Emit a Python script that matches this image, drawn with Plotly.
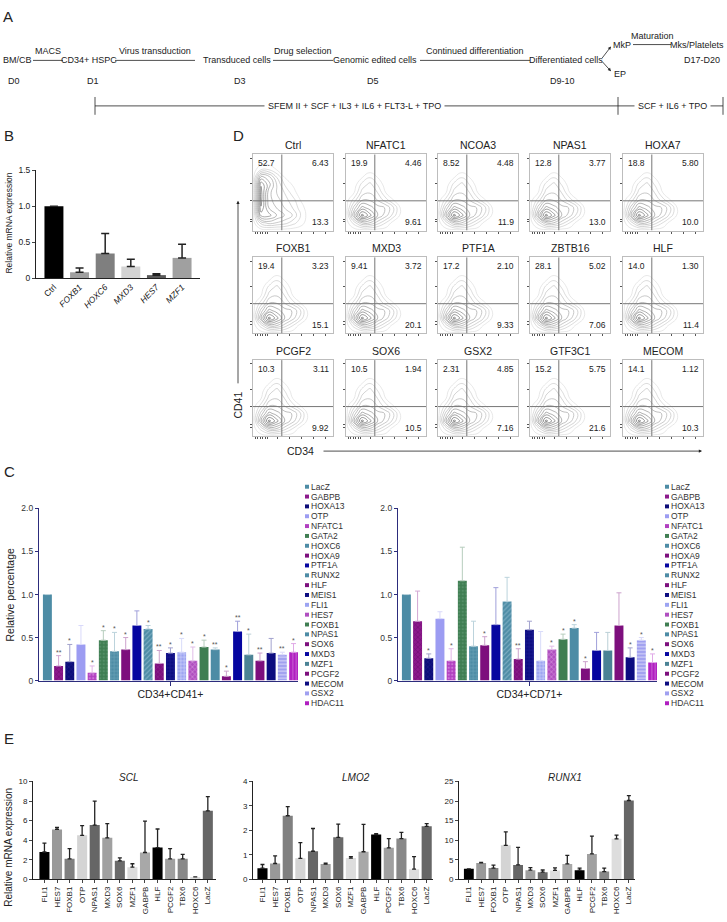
import plotly.graph_objects as go

W, H = 727, 922
FONT = "Liberation Sans, Arial, sans-serif"
INK = "#222222"

# ---------------- panel B: knock-down check (qPCR)
B_GENES = ["Ctrl", "FOXB1", "HOXC6", "MXD3", "HES7", "MZF1"]
B_MEAN = [1.0, 0.08, 0.34, 0.16, 0.04, 0.28]
B_ERR = [0.0, 0.06, 0.28, 0.10, 0.02, 0.19]

# ---------------- panel D: flow quadrants (upper-left, upper-right, lower-right)
D_GENES = ["Ctrl", "NFATC1", "NCOA3", "NPAS1", "HOXA7",
           "FOXB1", "MXD3", "PTF1A", "ZBTB16", "HLF",
           "PCGF2", "SOX6", "GSX2", "GTF3C1", "MECOM"]
D_UL = ["52.7", "19.9", "8.52", "12.8", "18.8", "19.4", "9.41", "17.2",
        "28.1", "14.0", "10.3", "10.5", "2.31", "15.2", "14.1"]
D_UR = ["6.43", "4.46", "4.48", "3.77", "5.80", "3.23", "3.72", "2.10",
        "5.02", "1.30", "3.11", "1.94", "4.85", "5.75", "1.12"]
D_LR = ["13.3", "9.61", "11.9", "13.0", "10.0", "15.1", "20.1", "9.33",
        "7.06", "11.4", "9.92", "10.5", "7.16", "21.6", "10.3"]

# coarse density grids (axes scaled 0-1)
DENS_X = [0.0, 0.1, 0.2, 0.3, 0.4, 0.5, 0.6, 0.7, 0.8]
DENS_Y = [0.0, 0.1, 0.2, 0.3, 0.4, 0.5, 0.6, 0.7, 0.8, 0.9]
DENS_CTRL = [
    [0, 0, 0, 0, 0, 0, 0, 0, 0],
    [0, 3, 4, 3.5, 3, 2, 1, 0, 0],
    [0, 7, 7, 5.5, 4.5, 3.5, 1.5, 0, 0],
    [0, 8.5, 5.5, 4.5, 3.5, 2.5, 1, 0, 0],
    [0, 9, 5, 4, 3, 2, 0.5, 0, 0],
    [0, 9, 5, 3.5, 2.5, 1, 0, 0, 0],
    [0, 8.5, 6, 3.5, 1.5, 0.5, 0, 0, 0],
    [0, 6, 5, 2.5, 0.5, 0, 0, 0, 0],
    [0, 1.5, 1.5, 0.5, 0, 0, 0, 0, 0],
    [0, 0, 0, 0, 0, 0, 0, 0, 0],
]
DENS_KO = [
    [0, 0, 0, 0, 0, 0, 0, 0, 0],
    [0, 2, 4.5, 4.5, 3, 1.5, 0, 0, 0],
    [0, 5.5, 10, 8, 5.5, 4, 2, 0, 0],
    [0, 4, 7, 6, 5, 4.5, 2.5, 0, 0],
    [0, 2, 4.5, 4.5, 3.5, 2, 0.5, 0, 0],
    [0, 0.5, 3, 3.5, 2.5, 0.5, 0, 0, 0],
    [0, 0, 2, 3, 1.5, 0, 0, 0, 0],
    [0, 0, 0.5, 1.5, 0.5, 0, 0, 0, 0],
    [0, 0, 0, 0, 0, 0, 0, 0, 0],
    [0, 0, 0, 0, 0, 0, 0, 0, 0],
]

# ---------------- panel C: relative percentage of populations
C_GENES = ["LacZ", "GABPB", "HOXA13", "OTP", "NFATC1", "GATA2", "HOXC6", "HOXA9",
           "PTF1A", "RUNX2", "HLF", "MEIS1", "FLI1", "HES7", "FOXB1", "NPAS1",
           "SOX6", "MXD3", "MZF1", "PCGF2", "MECOM", "GSX2", "HDAC11"]
C41_MEAN = [1.0, 0.17, 0.22, 0.42, 0.09, 0.47, 0.34, 0.36, 0.64, 0.60, 0.20, 0.32,
            0.33, 0.23, 0.39, 0.36, 0.05, 0.57, 0.30, 0.23, 0.32, 0.30, 0.33]
C41_ERR = [0.0, 0.12, 0.20, 0.22, 0.08, 0.11, 0.22, 0.14, 0.17, 0.04, 0.15, 0.06,
           0.16, 0.16, 0.08, 0.02, 0.06, 0.12, 0.24, 0.09, 0.17, 0.03, 0.10]
C41_SIG = ["", "**", "*", "", "*", "*", "*", "*", "", "*", "**", "*",
           "*", "*", "*", "**", "*", "**", "*", "**", "", "**", "*"]
C71_MEAN = [1.0, 0.69, 0.26, 0.72, 0.23, 1.16, 0.40, 0.41, 0.65, 0.92, 0.25, 0.59,
            0.23, 0.36, 0.48, 0.61, 0.14, 0.35, 0.35, 0.64, 0.27, 0.47, 0.21]
C71_ERR = [0.0, 0.35, 0.05, 0.08, 0.14, 0.39, 0.29, 0.10, 0.43, 0.28, 0.12, 0.10,
           0.34, 0.04, 0.06, 0.04, 0.08, 0.21, 0.21, 0.38, 0.11, 0.03, 0.10]
C71_SIG = ["", "", "*", "", "*", "", "", "*", "", "", "**", "",
           "", "*", "*", "*", "*", "", "", "", "*", "*", "*"]

# ---------------- panel E: qPCR of SCL / LMO2 / RUNX1
E_GENES = ["FLI1", "HES7", "FOXB1", "OTP", "NPAS1", "MXD3", "SOX6", "MZF1",
           "GABPB", "HLF", "PCGF2", "TBX6", "HOXC6", "LacZ"]
SCL_MEAN = [2.8, 5.1, 2.1, 4.5, 5.55, 4.25, 1.9, 1.25, 2.75, 3.25, 2.1, 2.1, 0.25, 7.0]
SCL_ERR = [0.9, 0.2, 1.05, 1.0, 2.45, 1.45, 0.3, 0.35, 3.2, 1.9, 1.05, 0.45, 0, 1.45]
LMO2_MEAN = [0.46, 0.65, 2.6, 0.86, 1.15, 0.63, 1.72, 0.87, 1.13, 1.83, 1.29, 1.67, 0.42, 2.17]
LMO2_ERR = [0.15, 0.31, 0.37, 0.64, 0.93, 0.03, 0.54, 0.06, 1.12, 0.04, 0.38, 0.25, 0.51, 0.11]
RUNX1_MEAN = [2.7, 4.2, 2.9, 8.7, 3.7, 2.35, 1.85, 2.3, 3.95, 2.35, 6.5, 2.0, 10.35, 20.15]
RUNX1_ERR = [0, 0.15, 0.75, 3.45, 4.5, 0.65, 0.55, 0.65, 2.2, 0.55, 4.55, 0.9, 0.95, 1.25]

# ---------------- styles
B_COLORS = ["#000000", "#a0a0a0", "#7f7f7f", "#d3d3d3", "#5a5a5a", "#a0a0a0"]
E_COLORS = ["#000000", "#999999", "#808080", "#d4d4d4", "#666666", "#a0a0a0", "#6a6a6a",
            "#dddddd", "#a8a8a8", "#000000", "#a0a0a0", "#888888", "#dddddd", "#666666"]
C_COLORS = {
    "LacZ": "#4d8ca5", "GABPB": "#8c1a8c", "HOXA13": "#0c0c78", "OTP": "#9c9cf2",
    "NFATC1": "#b13fc0", "GATA2": "#3f7e52", "HOXC6": "#4d8ca5", "HOXA9": "#7d0f7d",
    "PTF1A": "#0606a0", "RUNX2": "#4d8ca5", "HLF": "#7d0f7d", "MEIS1": "#0c0c80",
    "FLI1": "#9ca4f2", "HES7": "#b04fc0", "FOXB1": "#3f7e52", "NPAS1": "#4d8ca5",
    "SOX6": "#7d0f7d", "MXD3": "#0606a0", "MZF1": "#4b8395", "PCGF2": "#7d0f7d",
    "MECOM": "#0c0c80", "GSX2": "#a0a0f0", "HDAC11": "#b01fc0",
}
C_PATTERNS = {
    "GABPB": ("x", "#5a005a"), "HOXA13": ("x", "#2a2a9a"), "NFATC1": (".", "#e6b0ee"),
    "GATA2": (".", "#6a9e7c"), "HOXC6": ("+", "#86b6ca"), "RUNX2": ("/", "#a6cadb"),
    "HLF": ("x", "#9a3a9a"), "MEIS1": ("+", "#2c2ca4"), "FLI1": ("+", "#ffffff"),
    "HES7": ("x", "#f2d6f6"), "GSX2": ("-", "#ffffff"), "HDAC11": ("|", "#dc94e4"),
}
AXIS_BLUE = "#2c2c7c"


def tint(color, f):
    c = color.lstrip("#")
    rgb = [int(c[i:i + 2], 16) for i in (0, 2, 4)]
    return "#%02x%02x%02x" % tuple(int(v + (255 - v) * f) for v in rgb)


fig = go.Figure()
axes = {}
shapes = []
annots = []


def px(x, y):
    return x / W, 1 - y / H


def axes_at(n, left, right, top, bottom, xkw, ykw):
    s = "" if n == 1 else str(n)
    axes["xaxis" + s] = dict(domain=[left / W, right / W], anchor="y" + s, **xkw)
    axes["yaxis" + s] = dict(domain=[1 - bottom / H, 1 - top / H], anchor="x" + s, **ykw)
    return "x" + s, "y" + s


def text(x, y, s, size=9, color=INK, **kw):
    xp, yp = px(x, y)
    a = dict(x=xp, y=yp, xref="paper", yref="paper", text=s, showarrow=False,
             xanchor="center", yanchor="middle", borderpad=0,
             font=dict(size=size, color=color, family=FONT))
    a.update(kw)
    annots.append(a)


def line(x0, y0, x1, y1, color=INK, width=0.8):
    a, b = px(x0, y0)
    c, d = px(x1, y1)
    shapes.append(dict(type="line", xref="paper", yref="paper", x0=a, y0=b, x1=c, y1=d,
                       line=dict(color=color, width=width)))


def arrow(x, y, ax, ay):
    xp, yp = px(x, y)
    annots.append(dict(x=xp, y=yp, xref="paper", yref="paper", ax=ax, ay=ay, text="",
                       showarrow=True, arrowhead=2, arrowsize=0.8, arrowwidth=0.8,
                       arrowcolor=INK))


# ================= A: timeline
text(8, 12, "A", 15)
text(17, 56, "BM/CB")
line(33, 56, 63, 56)
text(48, 47, "MACS")
text(89, 56, "CD34+ HSPC")
line(115, 56, 195, 56)
text(155, 47, "Virus transduction")
text(237, 56, "Transduced cells")
line(273, 56, 333, 56)
text(303, 47, "Drug selection")
text(375, 56, "Genomic edited cells")
line(420, 56, 530, 56)
text(475, 47, "Continued differentiation")
text(566, 56, "Differentiated cells")
arrow(611, 42, -10, 13)
arrow(611, 67, -10, -11)
text(622, 40, "MkP")
line(633, 40, 671, 40)
text(652, 31, "Maturation")
text(725, 40, "Mks/Platelets", xanchor="right")
text(702, 56, "D17-D20")
text(620, 70, "EP")
for lbl, xx in [("D0", 14), ("D1", 93), ("D3", 240), ("D5", 373), ("D9-10", 562)]:
    text(xx, 77, lbl)
line(95, 102, 723, 102)
for xx in (95, 618, 723):
    line(xx, 93, xx, 111)
text(354, 102, "SFEM II + SCF + IL3 + IL6 + FLT3-L + TPO", bgcolor="white", borderpad=3)
text(672, 102, "SCF + IL6 + TPO", bgcolor="white", borderpad=3)

# ================= B
text(9, 132, "B", 15)
xa, ya = axes_at(
    1, 36, 200, 167, 276,
    dict(range=[-0.7, 5.7], tickvals=list(range(len(B_GENES))),
         ticktext=[g if g == "Ctrl" else "<i>%s</i>" % g for g in B_GENES],
         tickangle=-45, showline=True, linecolor=INK, linewidth=1, ticks="",
         showgrid=False, zeroline=False, tickfont=dict(size=8.5, color="#111111")),
    dict(range=[0, 1.5], tickvals=[0, 0.5, 1, 1.5], ticktext=["0", "0.5", "1.0", "1.5"],
         ticks="outside", ticklen=3, showline=True, linecolor=INK, linewidth=1,
         showgrid=False, zeroline=False, tickfont=dict(size=8.5, color=INK)))
fig.add_trace(go.Bar(
    x=list(range(len(B_GENES))), y=B_MEAN, width=0.74,
    marker=dict(color=B_COLORS, line_width=0),
    error_y=dict(type="data", symmetric=False, array=[e if e else None for e in B_ERR],
                 arrayminus=[0] * len(B_ERR), color=INK, thickness=1.5, width=4),
    xaxis=xa, yaxis=ya, showlegend=False, hoverinfo="skip"))
text(9, 221, "Relative mRNA expression", 8.5, textangle=-90)

# ================= D: flow contour grid
text(238, 132, "D", 15)
cols = [253, 346, 438, 530, 623]
rows = [151, 255, 359]
bw, bh = 80, 77
for k, gene in enumerate(D_GENES):
    left = cols[k % 5]
    top = rows[k // 5]
    xa, ya = axes_at(
        2 + k, left, left + bw, top, top + bh,
        dict(range=[0, 1], showline=True, mirror=True, linecolor="#bdbdbd", linewidth=1,
             ticks="outside", ticklen=2, tickcolor="#555555",
             tickvals=[0.03, 0.06, 0.09, 0.12, 0.15, 0.18, 0.3, 0.45, 0.6, 0.75, 0.9],
             showticklabels=False, showgrid=False, zeroline=False),
        dict(range=[0, 1], showline=True, mirror=True, linecolor="#bdbdbd", linewidth=1,
             ticks="outside", ticklen=2, tickcolor="#555555",
             tickvals=[0.12, 0.15, 0.39, 0.62, 0.95],
             showticklabels=False, showgrid=False, zeroline=False))
    fig.add_trace(go.Contour(
        x=DENS_X, y=DENS_Y, z=DENS_CTRL if gene == "Ctrl" else DENS_KO,
        autocontour=False,
        contours=dict(coloring="lines", start=0.6, end=9.6, size=1.0),
        line=dict(width=0.6, smoothing=1.3),
        colorscale=[[0, "#d6d6d6"], [1, "#404040"]], showscale=False,
        hoverinfo="skip", xaxis=xa, yaxis=ya))
    for x0, y0, x1, y1 in [(0.36, 0, 0.36, 1), (0, 0.39, 1, 0.39)]:
        shapes.append(dict(type="line", xref=xa, yref=ya, x0=x0, y0=y0, x1=x1, y1=y1,
                           line=dict(color="#777777", width=1)))
    nfont = dict(size=8.5, color=INK, family=FONT)
    annots.append(dict(xref=xa, yref=ya, x=0.04, y=0.98, text=D_UL[k], showarrow=False,
                       xanchor="left", yanchor="top", font=nfont))
    annots.append(dict(xref=xa, yref=ya, x=0.97, y=0.98, text=D_UR[k], showarrow=False,
                       xanchor="right", yanchor="top", font=nfont))
    annots.append(dict(xref=xa, yref=ya, x=0.97, y=0.02, text=D_LR[k], showarrow=False,
                       xanchor="right", yanchor="bottom", font=nfont))
    text(left + bw / 2, top - 9, gene, 10.5)

arrow(238, 198, 0, 184)
text(238, 405, "CD41", 10.5, textangle=-90)
arrow(702, 451, -380, 0)
text(300, 451, "CD34", 10.5)

# ================= C
text(9, 472, "C", 15)
text(10, 596, "Relative percentage", 10.5, textangle=-90)


def c_chart(n, left, label, means, errs, sigs, leg_x):
    xa, ya = axes_at(
        n, left, left + 259, 509, 683,
        dict(range=[-0.75, 22.4], tickvals=[11], ticktext=[label], ticks="outside",
             ticklen=4, tickcolor=AXIS_BLUE, showline=True, linecolor=AXIS_BLUE,
             linewidth=1.2, showgrid=False, zeroline=False,
             tickfont=dict(size=10.5, color=INK)),
        dict(range=[0, 2], tickvals=[0, 0.5, 1, 1.5, 2],
             ticktext=["0", "0.5", "1.0", "1.5", "2.0"], ticks="outside", ticklen=3,
             tickcolor=AXIS_BLUE, showline=True, linecolor=AXIS_BLUE, linewidth=1.2,
             showgrid=False, zeroline=False, tickfont=dict(size=8.5, color="#333333")))
    for i, g in enumerate(C_GENES):
        col = C_COLORS[g]
        marker = dict(color=col, line_width=0)
        if g in C_PATTERNS:
            shape, fg = C_PATTERNS[g]
            marker["pattern"] = dict(shape=shape, fgcolor=fg, size=3.5, solidity=0.35,
                                     fillmode="overlay")
        fig.add_trace(go.Bar(
            x=[i], y=[means[i]], width=0.8, marker=marker,
            error_y=dict(type="data", symmetric=False,
                         array=[errs[i] if errs[i] else None], arrayminus=[0],
                         color=tint(col, 0.62), thickness=1, width=2.5),
            xaxis=xa, yaxis=ya, showlegend=False, hoverinfo="skip"))
        if sigs[i]:
            annots.append(dict(xref=xa, yref=ya, x=i, y=means[i] + errs[i], text=sigs[i],
                               showarrow=False, xanchor="center", yanchor="bottom",
                               yshift=-2, font=dict(size=7, color="#555555", family=FONT)))
        yy = 487 + i * 9.95
        a, b = px(leg_x, yy - 2)
        c, d = px(leg_x + 4, yy + 2)
        shapes.append(dict(type="rect", xref="paper", yref="paper", x0=a, y0=b, x1=c, y1=d,
                           fillcolor=col, line_width=0))
        text(leg_x + 5, yy, g, 8.5, color="#333333", xanchor="left")


c_chart(40, 39, "CD34+CD41+", C41_MEAN, C41_ERR, C41_SIG, 305)
c_chart(41, 398, "CD34+CD71+", C71_MEAN, C71_ERR, C71_SIG, 665)

# ================= E
text(9, 742, "E", 15)
text(9, 852, "Relative mRNA expression", 10, textangle=-90)
E_SETS = [
    ("SCL", SCL_MEAN, SCL_ERR, 33, 216, [-0.91, 13.65], 10, 2, 128),
    ("LMO2", LMO2_MEAN, LMO2_ERR, 253, 433, [-0.75, 13.5], 4, 1, 356),
    ("RUNX1", RUNX1_MEAN, RUNX1_ERR, 459, 635, [-0.8, 13.5], 25, 5, 565),
]
for j, (name, means, errs, left, right, xr, ymax, step, tx) in enumerate(E_SETS):
    xa, ya = axes_at(
        50 + j, left, right, 785, 884,
        dict(range=xr, tickvals=list(range(len(E_GENES))), ticktext=E_GENES,
             tickangle=-90, ticks="outside", ticklen=3, showline=True, linecolor=INK,
             linewidth=1, showgrid=False, zeroline=False,
             tickfont=dict(size=8, color=INK)),
        dict(range=[0, ymax], tickvals=list(range(0, ymax + 1, step)), ticks="outside",
             ticklen=3, showline=True, linecolor=INK, linewidth=1, showgrid=False,
             zeroline=False, tickfont=dict(size=8, color=INK)))
    fig.add_trace(go.Bar(
        x=list(range(len(E_GENES))), y=means, width=0.8,
        marker=dict(color=E_COLORS, line_width=0),
        error_y=dict(type="data", symmetric=False, array=[e if e else None for e in errs],
                     arrayminus=[0] * len(errs), color=INK, thickness=1.3, width=2),
        xaxis=xa, yaxis=ya, showlegend=False, hoverinfo="skip"))
    text(tx, 781, "<i>%s</i>" % name, 10)

fig.update_layout(
    width=W, height=H, margin=dict(l=0, r=0, t=0, b=0),
    paper_bgcolor="white", plot_bgcolor="white", barmode="overlay", showlegend=False,
    font=dict(family=FONT, color=INK), shapes=shapes, annotations=annots, **axes)

# page body margin would push the figure off the 727x922 window
fig.write_html("out.html", config={"displayModeBar": False},
               post_script="document.body.style.margin='0';"
                           "document.body.style.overflow='hidden';")
